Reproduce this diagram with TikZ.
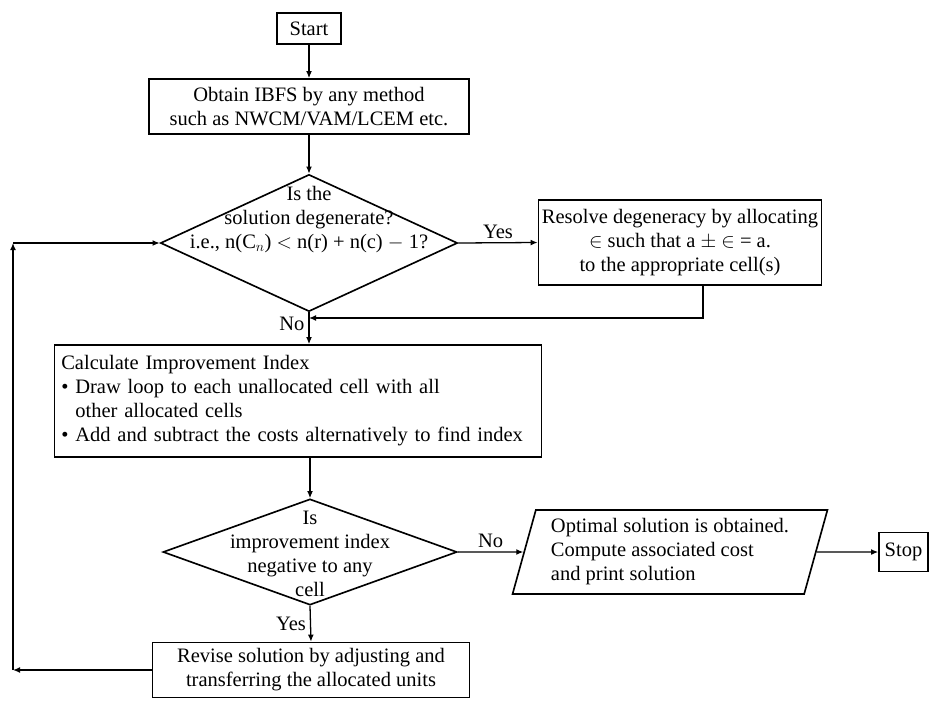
\documentclass[tikz,border=0pt]{standalone}
\usepackage{fontspec}
\setmainfont{Liberation Serif}
\usetikzlibrary{shapes.geometric,arrows.meta}

\tikzset{
  flowbox/.style={draw,line width=1.4pt,align=center,inner sep=3pt},
  decision/.style={diamond,draw,line width=1.4pt,inner sep=0pt},
  iobox/.style={trapezium,trapezium left angle=74,trapezium right angle=106,trapezium stretches=true,draw,line width=1.4pt,align=left},
  flowarrow/.style={-{Latex[length=6pt,width=5pt]},line width=1.1pt},
}

\begin{document}
\begin{tikzpicture}[x=0.03cm,y=-0.03cm,font=\fontsize{17.5}{20.5}\selectfont]
  \useasboundingbox (0,0) rectangle (930,701);

  \node[flowbox,minimum width=1.92cm,minimum height=0.93cm] (start) at (309,28.5) {Start};
  \node[flowbox,minimum width=9.6cm,minimum height=1.65cm] (obtain) at (309,106.5) {Obtain IBFS by any method\\such as NWCM/VAM/LCEM etc.};

  \node[decision,minimum width=8.91cm,minimum height=4.11cm] (degen) at (309,243) {};
  \node[align=center,inner sep=0pt] (degentext) at (309,220) {Is the\\solution degenerate?\\i.e., n(C$_n$) $<$ n(r) + n(c) $-$ 1?};

  \node[flowbox,minimum width=8.28cm,minimum height=2.55cm] (resolve) at (680,242.5) {Resolve degeneracy by allocating\\$\in$ such that a $\pm$ $\in$ = a.\\to the appropriate cell(s)};
  \coordinate (join) at (309,318);

  \node[flowbox,align=left,text width=14.2cm,inner xsep=0.2cm,minimum height=3.36cm] (calc) at (298,401) {Calculate Improvement Index\\
    \textbullet\ Draw loop to each unallocated cell with all\\
    \phantom{\textbullet\ }other allocated cells\\
    \textbullet\ Add and subtract the costs alternatively to find index};

  \node[decision,minimum width=8.82cm,minimum height=3.18cm] (index) at (310,552) {};
  \node[align=center,inner sep=0pt] (indextext) at (310,554) {Is\\improvement index\\negative to any\\cell};

  \node[iobox,minimum width=9.45cm,minimum height=2.52cm] (optimal) at (670,552) {Optimal solution is obtained.\\Compute associated cost\\and print solution};
  \node[flowbox,minimum width=1.47cm,minimum height=1.17cm,inner sep=1pt] (stop) at (903.5,552) {Stop};

  \node[flowbox,minimum width=9.5cm,minimum height=1.65cm] (revise) at (311,670) {Revise solution by adjusting and\\transferring the allocated units};

  \coordinate (loopbot) at (13,670);
  \coordinate (looptop) at (13,243);

  % connectors
  \draw[flowarrow] (start) -- (obtain);
  \draw[flowarrow] (obtain) -- (degen);
  \draw[flowarrow] (degen.east) -- node[above]{Yes} (resolve.west);
  \draw[flowarrow] (degen.south) -- node[left,pos=0.35]{No} (degen.south |- calc.north);
  \draw[flowarrow] ([xshift=0.69cm]resolve.south) |- (join);
  \draw[flowarrow] (calc.south -| index.north) -- (index.north);
  \draw[flowarrow] (index.east) -- node[above]{No} (optimal.west);
  \draw[flowarrow] (optimal.east) -- (stop.west);
  \draw[flowarrow] (index.south) -- node[left]{Yes} (revise.north);
  \draw[flowarrow] (revise.west) -- (loopbot);
  \draw[flowarrow] (loopbot) -- (looptop);
  \draw[flowarrow] (looptop) -- (degen.west);
\end{tikzpicture}
\end{document}
